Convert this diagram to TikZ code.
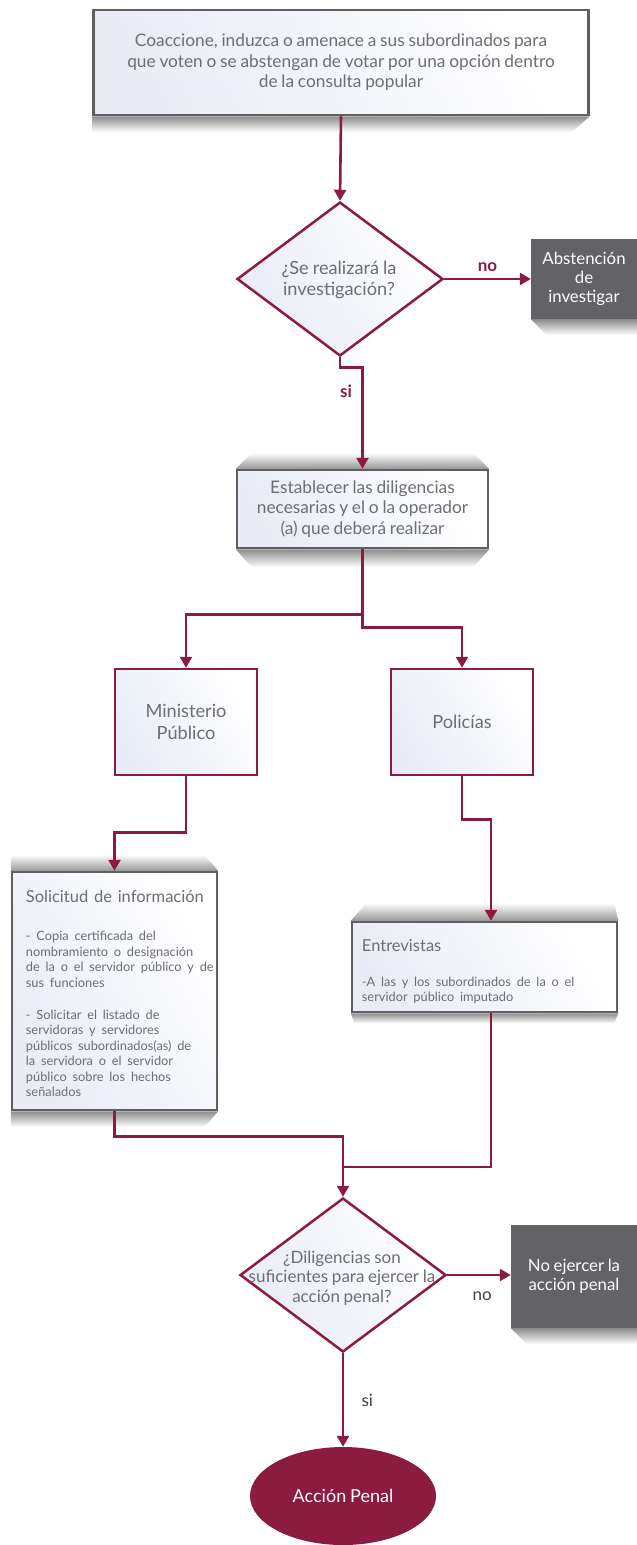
\documentclass[tikz,border=0pt]{standalone}
\usepackage{fontspec}
\setmainfont{Lato}[WordSpace=0.85]
\usetikzlibrary{arrows.meta,shapes.geometric,positioning,calc,backgrounds}
\definecolor{FlowMaroon}{HTML}{8B1B3F}
\definecolor{FlowGray}{HTML}{636266}
\definecolor{FlowText}{HTML}{6D6E71}
\definecolor{FlowBorder}{HTML}{5F5F62}
\definecolor{FlowTint}{HTML}{E9ECF6}
\newcommand\boxtitlefont{\fontsize{16.5}{20}\selectfont}
\newcommand\boxbodyfont{\fontsize{12.8}{15.5}\selectfont}

\tikzset{
  base/.style={font=\fontsize{17.3}{20.5}\selectfont,text=FlowText,align=center,inner sep=0pt},
  graybox/.style={base,draw=FlowBorder,line width=2.5pt,left color=FlowTint,right color=white,shading angle=120},
  redbox/.style={base,draw=FlowMaroon,line width=2.5pt,left color=FlowTint,right color=white,shading angle=120,
    font=\fontsize{18.2}{22}\selectfont},
  decision/.style={diamond,draw=FlowMaroon,line width=2.5pt,left color=FlowTint,right color=white,shading angle=120,
    minimum width=206pt,minimum height=154pt,inner sep=0pt},
  endbox/.style={base,fill=FlowGray,text=white,font=\fontsize{16.8}{19}\selectfont},
  terminal/.style={ellipse,fill=FlowMaroon,text=white,font=\fontsize{18}{20}\selectfont,
    minimum width=186pt,minimum height=98pt,inner sep=0pt},
  flow/.style={draw=FlowMaroon,line width=2.6pt,-{Triangle[length=11pt,width=12pt]}},
  flowline/.style={draw=FlowMaroon,line width=2.6pt},
  platedown/.style={top color=black!45,bottom color=white,draw=none},
  plateup/.style={top color=white,bottom color=black!40,draw=none},
  yesno/.style={font=\bfseries\fontsize{17}{20}\selectfont,text=FlowMaroon},
  yesnoplain/.style={font=\fontsize{17}{20}\selectfont,text=black!75}
}

\begin{document}
\begin{tikzpicture}[x=1pt,y=-1pt,line join=miter]
  \useasboundingbox (0,0) rectangle (637,1545);

  % boxes
  \node[graybox,minimum width=495pt,minimum height=105pt] (start) at (341,62.5)
    {Coaccione, induzca o amenace a sus subordinados para\\que voten o se abstengan de votar por una opción dentro\\de la consulta popular};
  \node[decision] (q1) at (340,279) {};
  \node[base,font=\fontsize{18.2}{21.5}\selectfont] (q1txt) at (339,280) {¿Se realizará la\\investigación?};
  \node[endbox,minimum width=106pt,minimum height=80pt] (abst) at (584,279) {Abstención\\de\\investigar};
  \node[graybox,minimum width=251pt,minimum height=78pt] (estab) at (362.5,509)
    {Establecer las diligencias\\necesarias y el o la operador\\(a) que deberá realizar};
  \node[redbox,minimum width=142pt,minimum height=106pt] (minis) at (186,722) {Ministerio\\Público};
  \node[redbox,minimum width=142pt,minimum height=106pt] (pol) at (462,722) {Policías};
  \node[graybox,minimum width=205pt,minimum height=238pt] (solic) at (114.5,991) {};
  \node[base,anchor=north west,align=left,text width=240pt] (solictxt) at ([shift={(15,19)}]solic.north west)
    {\raggedright{\boxtitlefont Solicitud de información\par}\vspace{23pt}
     {\boxbodyfont - Copia certificada del\\nombramiento o designación\\de la o el servidor público y de\\sus funciones\par\vspace{16.5pt}
     - Solicitar el listado de\\servidoras y servidores\\públicos subordinados(as) de\\la servidora o el servidor\\público sobre los hechos\\señalados\par}};
  \node[graybox,minimum width=265pt,minimum height=90pt] (entrev) at (484.5,967) {};
  \node[base,anchor=north west,align=left,text width=255pt] (entrevtxt) at ([shift={(11,19)}]entrev.north west)
    {\raggedright{\boxtitlefont Entrevistas\par}\vspace{19pt}
     {\boxbodyfont -A las y los subordinados de la o el\\servidor público imputado\par}};
  \node[decision] (q2) at (343,1275) {};
  \node[base,font=\fontsize{17}{19.5}\selectfont] (q2txt) at (342,1278)
    {¿Diligencias son\\suficientes para ejercer la\\acción penal?};
  \node[endbox,minimum width=126pt,minimum height=103pt] (noact) at (574,1276.5) {No ejercer la\\acción penal};
  \node[terminal] (penal) at (343,1496) {Acción Penal};

  % shadows
  \begin{scope}[on background layer]
    \shade[platedown] (start.south west) -- (start.south east) -- ([shift={(-18,16)}]start.south east) -- ([shift={(0,16)}]start.south west) -- cycle;
    \shade[plateup] ([shift={(16,-16)}]estab.north west) -- ([shift={(-16,-16)}]estab.north east) -- (estab.north east) -- (estab.north west) -- cycle;
    \shade[platedown] (estab.south west) -- (estab.south east) -- ([shift={(-16,18)}]estab.south east) -- ([shift={(16,18)}]estab.south west) -- cycle;
    \shade[plateup] ([shift={(0,-16)}]solic.north west) -- ([shift={(-14,-16)}]solic.north east) -- (solic.north east) -- (solic.north west) -- cycle;
    \shade[platedown] (solic.south west) -- (solic.south east) -- ([shift={(-14,16)}]solic.south east) -- ([shift={(0,16)}]solic.south west) -- cycle;
    \shade[plateup] ([shift={(16,-18)}]entrev.north west) -- ([shift={(-4,-18)}]entrev.north east) -- (entrev.north east) -- (entrev.north west) -- cycle;
    \shade[platedown] (entrev.south west) -- (entrev.south east) -- ([shift={(-4,10)}]entrev.south east) -- ([shift={(4,10)}]entrev.south west) -- cycle;
    \shade[platedown] (abst.south west) -- (abst.south east) -- ([shift={(0,16)}]abst.south east) -- ([shift={(16,16)}]abst.south west) -- cycle;
    \shade[platedown] (noact.south west) -- (noact.south east) -- ([shift={(0,16)}]noact.south east) -- ([shift={(16,16)}]noact.south west) -- cycle;
  \end{scope}

  % connectors
  \draw[flow] (start.south) -- (q1.north);
  \draw[flow] (q1.east) -- (abst.west) node[yesno,midway,above=3pt] (lblno1) {no};
  \draw[flow] (q1.south) -- ++(0,10) -| (estab.north) node[yesno,pos=0.62,left=6pt] (lblsi1) {si};
  \draw[flow] (estab.south) -- ++(0,65) -| (minis.north);
  \draw[flow] (estab.south) -- ++(0,78) -| (pol.north);
  \draw[flow] (minis.south) -- ++(0,56) -| (solic.north);
  \draw[flow] (pol.south) -- ++(0,43) -| ([xshift=6.5pt]entrev.north);
  \coordinate (join) at (343,1167);
  \draw[flow] (solic.south) -- ++(0,25) -| (q2.north);
  \draw[flowline] ([xshift=6.5pt]entrev.south) |- (join);
  \draw[flow] (q2.east) -- (q2.east -| noact.west) node[yesnoplain,pos=0.55,below=12pt] (lblno2) {no};
  \draw[flow] (q2.south) -- (penal.north) node[yesnoplain,midway,right=14pt] (lblsi2) {si};
\end{tikzpicture}
\end{document}
